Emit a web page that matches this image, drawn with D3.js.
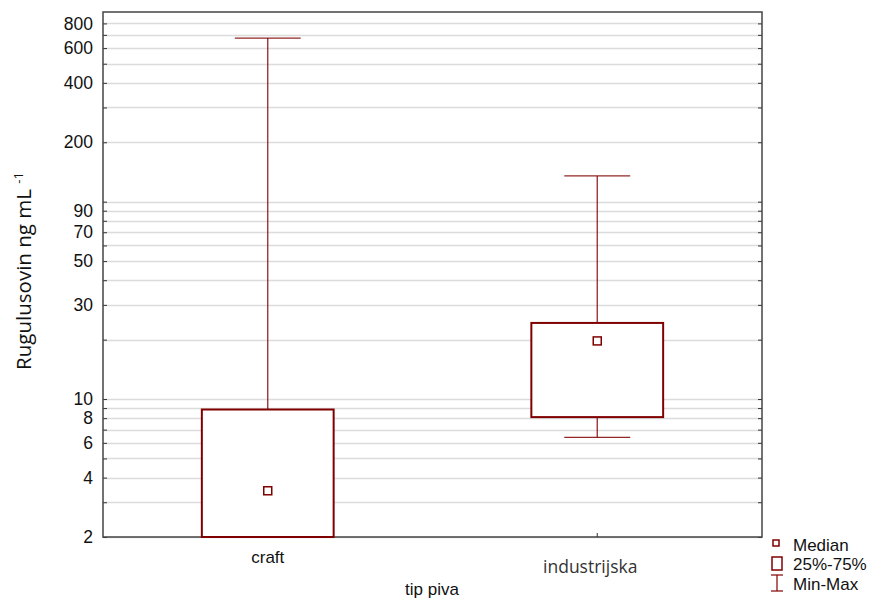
<!DOCTYPE html>
<html><head><meta charset="utf-8">
<script src="https://cdn.jsdelivr.net/npm/d3@7"></script>
<style>body{margin:0;background:#fff}</style>
</head><body>
<svg id="c" width="873" height="601"></svg>
<script>
const categories = ["craft", "industrijska"];
const q1 = [2.0, 8.1];
const median = [3.43, 19.7];
const q3 = [8.85, 24.3];
const minVals = [2.0, 6.4];
const maxVals = [674, 135];
const labeledTicks = [2,4,6,8,10,30,50,70,90,200,400,600,800];
const gridTicks = [2,3,4,5,6,7,8,9,10,20,30,40,50,60,70,80,90,100,200,300,400,500,600,700,800];

const ARIAL = "'Liberation Sans', Arial, sans-serif";
const svg = d3.select("#c");
const L = 103, R = 762, T = 12, B = 537;
const col = "#800000";
const y = d3.scaleLog().domain([2, 914]).range([B, T]);
const x = d3.scaleBand().domain(categories).range([L, R]).padding(0);

svg.append("defs").append("clipPath").attr("id","pc").append("rect")
  .attr("x", L).attr("y", T-1).attr("width", R-L).attr("height", B-T+2);

// grid
svg.append("g").selectAll("line").data(gridTicks).join("line")
  .attr("x1", L).attr("x2", R).attr("y1", d=>Math.round(y(d))+0.5).attr("y2", d=>Math.round(y(d))+0.5)
  .attr("stroke", "#dcdcdc").attr("stroke-width", 1.5);

// axes
const la = svg.append("g").attr("transform", `translate(${L},0)`)
  .call(d3.axisLeft(y).tickValues(gridTicks).tickSizeInner(-4).tickSizeOuter(0)
    .tickFormat(d => labeledTicks.includes(d) ? d : ""));
la.selectAll("text").attr("x", -10).style("font-family",ARIAL).style("font-size","17.5px").attr("fill","#111");
la.select(".domain").remove();
la.selectAll(".tick line").attr("stroke","#333");
const ra = svg.append("g").attr("transform", `translate(${R},0)`)
  .call(d3.axisRight(y).tickValues(gridTicks).tickSizeInner(-4).tickSizeOuter(0).tickFormat(""));
ra.select(".domain").remove();
ra.selectAll(".tick line").attr("stroke","#333");

// frame
svg.append("rect").attr("x", L).attr("y", T).attr("width", R-L).attr("height", B-T)
  .attr("fill","none").attr("stroke","#444").attr("stroke-width",1.5);

// bottom ticks
svg.append("g").selectAll("line").data(categories).join("line")
  .attr("x1", d=>x(d)+x.bandwidth()/2).attr("x2", d=>x(d)+x.bandwidth()/2)
  .attr("y1", B).attr("y2", B-4).attr("stroke","#333");

// boxes
const g = svg.append("g").attr("clip-path","url(#pc)");
const bw = x.bandwidth()*0.4, cw = x.bandwidth()*0.2;
categories.forEach((c,i) => {
  const cx = x(c) + x.bandwidth()/2;
  g.append("line").attr("x1",cx).attr("x2",cx).attr("y1",y(maxVals[i])).attr("y2",y(q3[i]))
    .attr("stroke",col).attr("stroke-width",1.3).attr("stroke-opacity",0.85);
  if (minVals[i] < q1[i]) {
    g.append("line").attr("x1",cx).attr("x2",cx).attr("y1",y(q1[i])).attr("y2",y(minVals[i]))
      .attr("stroke",col).attr("stroke-width",1.3).attr("stroke-opacity",0.85);
    g.append("line").attr("x1",cx-cw/2).attr("x2",cx+cw/2).attr("y1",y(minVals[i])).attr("y2",y(minVals[i]))
      .attr("stroke",col).attr("stroke-width",1.3).attr("stroke-opacity",0.85);
  }
  g.append("line").attr("x1",cx-cw/2).attr("x2",cx+cw/2).attr("y1",y(maxVals[i])).attr("y2",y(maxVals[i]))
    .attr("stroke",col).attr("stroke-width",1.3).attr("stroke-opacity",0.85);
  g.append("rect").attr("x",cx-bw/2).attr("y",y(q3[i])).attr("width",bw).attr("height",y(q1[i])-y(q3[i]))
    .attr("fill","#fff").attr("stroke",col).attr("stroke-width",2);
  g.append("rect").attr("x",cx-4).attr("y",y(median[i])-4).attr("width",8).attr("height",8)
    .attr("fill","#fff").attr("stroke",col).attr("stroke-width",1.5);
});

// x labels
svg.append("text").attr("x", x("craft")+x.bandwidth()/2).attr("y", 563).attr("text-anchor","middle")
  .style("font-family",ARIAL).style("font-size","17px").attr("fill","#111").text("craft");
svg.append("text").attr("x", x("industrijska")+x.bandwidth()/2-7).attr("y", 573).attr("text-anchor","middle")
  .style("font-family","'Open Sans'").style("font-size","17.5px").attr("fill","#333").text("industrijska");
svg.append("text").attr("x", 432).attr("y", 595).attr("text-anchor","middle")
  .style("font-family",ARIAL).style("font-size","17px").attr("fill","#111").text("tip piva");

// y title
const yt = svg.append("text").attr("transform","translate(31,271) rotate(-90)").attr("text-anchor","middle")
  .style("font-family","'Open Sans'").style("font-size","20.5px").attr("fill","#111");
yt.append("tspan").text("Rugulusovin ng mL ");
yt.append("tspan").attr("dy",-8).style("font-size","13px").text("-1");

// legend
const lg = svg.append("g").style("font-family",ARIAL).style("font-size","17px").attr("fill","#111");
lg.append("rect").attr("x",773).attr("y",540).attr("width",6).attr("height",6).attr("fill","#fff").attr("stroke",col).attr("stroke-width",1.5);
lg.append("text").attr("x",793).attr("y",551).text("Median");
lg.append("rect").attr("x",772).attr("y",557).attr("width",10).attr("height",13).attr("fill","#fff").attr("stroke",col).attr("stroke-width",1.5);
lg.append("text").attr("x",793).attr("y",570).text("25%-75%");
lg.append("line").attr("x1",777).attr("x2",777).attr("y1",575).attr("y2",591).attr("stroke",col).attr("stroke-width",1.2);
lg.append("line").attr("x1",771).attr("x2",783).attr("y1",575).attr("y2",575).attr("stroke",col).attr("stroke-width",1.2);
lg.append("line").attr("x1",771).attr("x2",783).attr("y1",591).attr("y2",591).attr("stroke",col).attr("stroke-width",1.2);
lg.append("text").attr("x",793).attr("y",590).text("Min-Max");
</script>
</body></html>
